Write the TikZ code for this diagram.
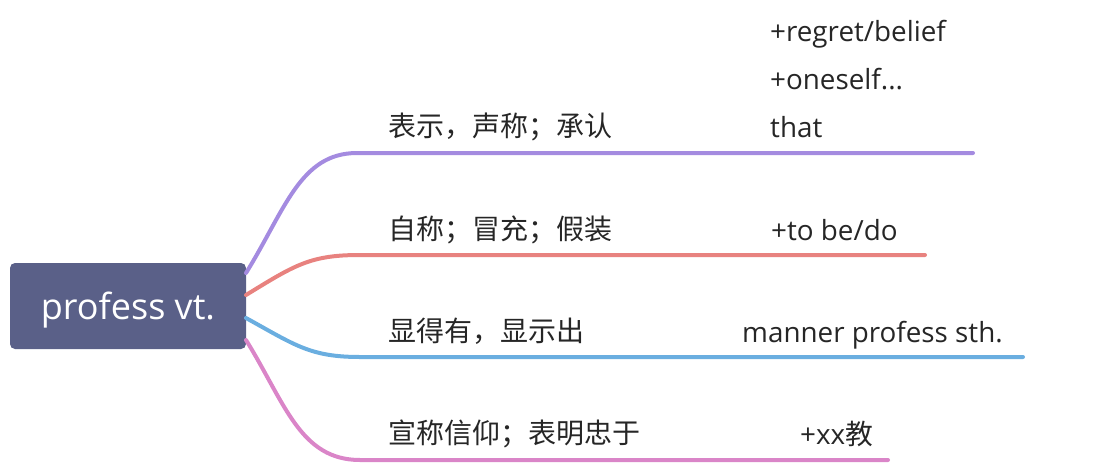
\documentclass[tikz,border=0pt]{standalone}
\usepackage{fontspec}
\setmainfont{Open Sans}
\newfontfamily\cjk{Noto Sans CJK SC}
\definecolor{rootfill}{HTML}{5A6088}
\definecolor{txt}{HTML}{262626}
\definecolor{cpurple}{HTML}{A48BE0}
\definecolor{cred}{HTML}{E8827F}
\definecolor{cblue}{HTML}{6AAEE0}
\definecolor{cpink}{HTML}{DA85C8}
\begin{document}
\begin{tikzpicture}[x=1pt,y=1pt,
  rootbox/.style={fill=rootfill, rounded corners=5pt, minimum width=236pt, minimum height=86pt, inner sep=0pt, text=white, text height=26pt, text depth=0pt, font=\fontsize{36}{42}\selectfont},
  zh/.style={anchor=base west, inner sep=0pt, text=txt, font=\cjk\fontsize{28}{32}\selectfont},
  en/.style={anchor=base west, inner sep=0pt, text=txt, font=\fontsize{27.8}{32}\selectfont},
  branch/.style={line width=4pt, line cap=round}]
\useasboundingbox (0,0) rectangle (1120,-464);
\node[rootbox] (root) at (128,-306) {profess vt.};
% branch start points on root's right side
\coordinate (s1) at (246,-273);
\coordinate (s2) at (246,-295);
\coordinate (s3) at (246,-318);
\coordinate (s4) at (246,-340);
% branch knees and ends
\coordinate (k1) at (357,-153); \coordinate (e1) at (973,-153);
\coordinate (k2) at (360,-255); \coordinate (e2) at (925,-255);
\coordinate (k3) at (360,-357); \coordinate (e3) at (1023,-357);
\coordinate (k4) at (360,-460); \coordinate (e4) at (888,-460);
\draw[branch, cpurple] (s1) .. controls (285,-210) and (300,-153) .. (k1) -- (e1);
\draw[branch, cred] (s2) .. controls (295,-265) and (310,-255) .. (k2) -- (e2);
\draw[branch, cblue] (s3) .. controls (295,-345) and (310,-357) .. (k3) -- (e3);
\draw[branch, cpink] (s4) .. controls (285,-403) and (300,-460) .. (k4) -- (e4);
% labels
\node[zh] (l1) at (388,-136) {表示，声称；承认};
\node[en] (a1) at (770,-137) {that};
\node[en] (b1) at (770,-89) {+oneself...};
\node[en] (c1) at (770,-41) {+regret/belief};
\node[zh] (l2) at (388,-239) {自称；冒充；假装};
\node[en] (a2) at (771,-240) {+to be/do};
\node[zh] (l3) at (388,-341) {显得有，显示出};
\node[en] (a3) at (742,-342) {manner profess sth.};
\node[zh] (l4) at (388,-443) {宣称信仰；表明忠于};
\node[en] (a4) at (800,-444) {+xx{\cjk 教}};
\end{tikzpicture}
\end{document}
